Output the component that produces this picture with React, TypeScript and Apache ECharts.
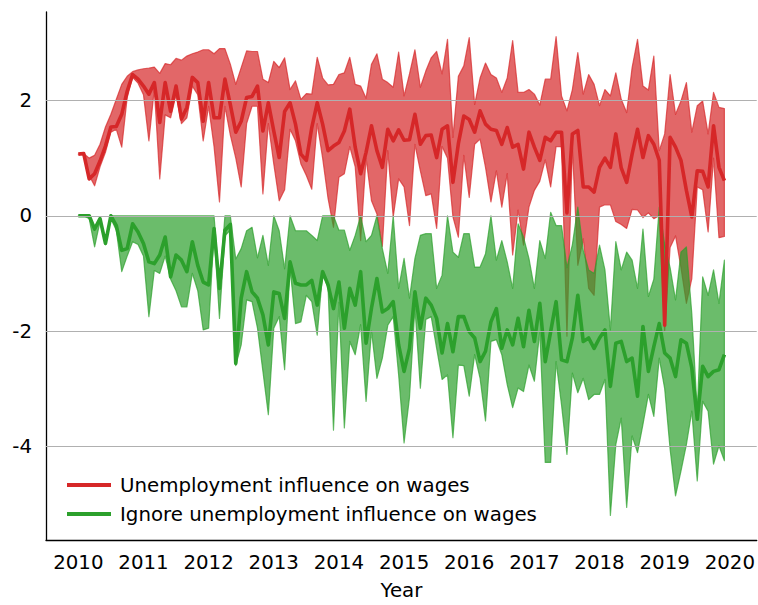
import React, { useEffect, useRef } from "react";
import * as echarts from "echarts";

// Monthly observations, Jan 2010 .. Dec 2019
const startYear = 2010;
const months = 120;

const redMean = [
  1.07, 1.08, 0.64, 0.73, 0.95, 1.21, 1.54, 1.55, 1.76, 2.16, 2.45, 2.37,
  2.25, 2.11, 2.31, 1.62, 2.31, 1.81, 2.25, 1.68, 1.88, 2.40, 2.31, 1.64,
  2.31, 1.70, 1.70, 2.37, 1.93, 1.45, 1.64, 2.05, 2.07, 2.25, 1.47, 1.96,
  1.47, 1.01, 1.81, 1.96, 1.59, 1.07, 0.96, 1.53, 1.96, 1.59, 1.13, 1.21,
  1.27, 1.47, 1.85, 1.19, 0.73, 1.10, 1.56, 1.13, 0.84, 1.50, 1.30, 1.49,
  1.31, 1.32, 1.76, 1.24, 1.39, 1.40, 1.01, 1.50, 1.56, 0.58, 1.25, 1.73,
  1.67, 1.45, 1.82, 1.59, 1.50, 1.48, 1.24, 1.53, 1.19, 1.24, 0.81, 1.45,
  1.19, 0.96, 1.36, 1.30, 1.45, 1.45, 0.05, 1.42, 1.48, 0.50, 0.50, 0.41,
  0.84, 1.00, 0.84, 1.42, 0.83, 0.58, 1.07, 1.50, 1.01, 1.39, 1.24, 0.96,
  -1.9, 1.36, 1.19, 0.96, 0.44, -0.02, 0.78, 0.77, 0.50, 1.56, 0.84, 0.61,
];

const redUpper = [
  1.07, 1.08, 1.0, 1.05, 1.24, 1.54, 1.76, 2.02, 2.28, 2.42, 2.50, 2.53,
  2.55, 2.56, 2.58, 2.47, 2.64, 2.62, 2.73, 2.70, 2.77, 2.81, 2.84, 2.88,
  2.88, 2.81, 2.90, 2.90, 2.63, 2.28, 2.57, 2.86, 2.85, 2.85, 2.37, 2.31,
  2.68, 2.57, 2.74, 2.19, 2.34, 2.02, 2.12, 2.11, 2.75, 2.39, 2.27, 2.28,
  2.45, 2.48, 2.75, 2.28, 2.25, 2.04, 2.63, 2.81, 2.37, 2.31, 2.23, 2.84,
  2.08, 2.46, 2.88, 2.23, 2.51, 2.74, 2.85, 2.46, 3.06, 1.36, 2.42, 2.60,
  3.09, 1.93, 2.39, 2.65, 2.45, 2.39, 2.14, 2.39, 3.04, 2.14, 2.14, 2.19,
  2.11, 1.92, 2.37, 2.37, 3.11, 2.08, 1.82, 2.19, 2.83, 2.11, 2.45, 2.28,
  1.91, 2.19, 2.08, 2.48, 2.02, 1.79, 2.57, 3.06, 2.25, 2.18, 2.77, 1.13,
  1.42, 2.45, 1.76, 1.99, 2.31, 1.45, 1.91, 1.99, 1.42, 2.14, 1.88, 1.86,
];

const redLower = [
  1.07, 1.05, 0.7, 0.52, 0.85, 1.1, 1.45, 1.5, 1.19, 2.05, 2.4, 2.3,
  2.1, 1.3, 2.2, 0.64, 1.75, 1.7, 2.1, 1.6, 1.7, 2.25, 2.1, 1.3,
  1.9, 1.2, 0.24, 1.9, 1.4, 1.0, 0.5, 1.6, 1.9, 1.9, 0.38, 1.6,
  0.9, 0.26, 0.45, 1.5, 1.3, 0.9, 0.7, 0.46, 1.6, 1.0, 0.3, -0.2,
  0.67, 0.73, 1.2, 0.85, -0.43, 1.0, 0.26, 0.03, -0.53, 1.13, -0.02, 0.64,
  0.5, -0.17, 1.24, 0.78, 0.35, 0.38, -0.22, 1.2, 1.0, -0.02, -0.37, 1.05,
  0.32, 1.24, 1.33, 0.84, 0.24, 0.78, 0.15, 0.73, -0.68, 0.1, -0.51, 0.15,
  0.44, 0.6, 0.97, 0.5, 1.2, 1.2, -2.09, 1.2, -0.86, -0.4, -1.26, -1.38,
  0.15, 0.19, 0.19, -0.1, -0.15, -0.22, 0.11, 0.1, -0.03, 0.05, -0.05, 0.0,
  -2.0, -0.55, -0.35, -0.9, -1.52, -1.09, 0.5, 0.45, -0.28, 1.0, -0.38, -0.36,
];

const greenMean = [
  0, 0, 0, -0.23, -0.05, -0.48, 0.0, -0.17, -0.6, -0.57, -0.14, -0.28,
  -0.48, -0.8, -0.83, -0.68, -0.37, -1.06, -0.68, -0.77, -0.97, -0.45, -0.86, -1.15,
  -1.2, -0.22, -1.26, -0.25, -0.15, -2.56, -1.43, -0.97, -1.32, -1.43, -1.72, -2.24,
  -1.32, -1.35, -1.78, -0.8, -1.17, -1.2, -1.2, -1.12, -1.55, -0.97, -1.2, -1.61,
  -1.15, -1.95, -1.26, -1.55, -0.97, -2.21, -1.6, -1.09, -1.67, -1.61, -1.49, -2.24,
  -2.7, -2.3, -1.32, -1.95, -1.43, -1.55, -1.78, -2.38, -1.87, -2.36, -1.75, -1.75,
  -2.01, -2.12, -2.53, -2.35, -1.84, -1.61, -2.3, -1.98, -2.24, -1.78, -2.27, -1.64,
  -2.18, -1.52, -2.53, -2.01, -1.49, -2.5, -2.53, -2.12, -1.38, -2.18, -2.12, -2.3,
  -2.12, -1.98, -2.96, -2.21, -2.18, -2.53, -2.47, -3.13, -1.92, -2.7, -2.27, -1.87,
  -2.38, -2.47, -2.79, -2.15, -2.21, -2.64, -3.53, -2.61, -2.79, -2.7, -2.67, -2.41,
];

const greenUpper = [
  0, 0, 0, -0.2, -0.05, -0.45, 0, 0, 0, 0, 0, 0,
  0, 0, 0, 0, 0, 0, 0, 0, 0, 0, 0, 0,
  0, 0, -1.2, 0, 0, -0.75, -0.57, -0.26, -0.2, -0.73, -0.34, -0.86,
  0, -0.26, -0.92, 0, -0.26, -0.26, -0.26, -0.34, -0.43, 0, 0, 0,
  -0.25, -0.25, -0.6, -0.34, 0, -0.45, -0.34, 0, -0.57, -1.0, 0, -1.26,
  -0.74, -1.43, -0.74, -0.34, -0.31, -0.31, -1.26, -1.03, 0, -0.63, -0.72, -0.31,
  -0.31, -0.89, -0.89, -0.66, 0, -0.77, -0.43, -0.8, -1.26, -0.14, -0.37, -0.74,
  -1.26, -0.43, -0.74, 0.06, -0.17, -0.17, -0.9, -0.5, 0.15, -0.6, -0.94, -1.0,
  -0.51, -0.94, -1.98, -0.45, -0.94, -0.63, -0.77, -1.26, -0.23, -1.4, -1.1, 0.15,
  -0.5, -0.9, -1.46, -0.63, -0.54, -1.7, -3.4, -1.06, -1.38, -0.94, -1.52, -0.77,
];

const greenLower = [
  0, 0, -0.05, -0.54, -0.1, -0.5, -0.05, -0.25, -0.97, -0.7, -0.45, -0.5,
  -0.7, -1.75, -0.95, -1.0, -0.7, -1.1, -1.3, -1.58, -1.58, -1.0, -1.3, -1.98,
  -1.95, -0.3, -1.78, -0.35, -0.25, -2.6, -2.24, -1.46, -1.49, -1.95, -2.7, -3.45,
  -1.95, -1.75, -2.67, -0.9, -1.87, -1.84, -1.38, -1.49, -2.07, -1.0, -1.25, -3.72,
  -1.5, -3.68, -2.18, -2.41, -1.89, -3.22, -2.0, -2.82, -2.47, -1.9, -1.75, -2.76,
  -3.94, -3.15, -1.6, -2.99, -1.8, -1.75, -2.3, -2.84, -2.76, -3.85, -2.59, -2.6,
  -3.13, -2.41, -2.82, -3.56, -2.18, -2.15, -2.41, -2.93, -3.33, -2.99, -3.05, -2.59,
  -2.87, -2.01, -4.28, -4.28, -2.53, -3.28, -4.14, -2.73, -3.07, -2.82, -3.19, -3.1,
  -3.1, -2.84, -5.2, -3.97, -3.51, -5.06, -3.82, -4.11, -3.62, -3.1, -3.48, -2.47,
  -3.0, -4.05, -4.86, -4.43, -3.97, -3.39, -4.6, -3.22, -3.39, -4.31, -3.99, -4.25,
];

const yearTicks = [2010, 2011, 2012, 2013, 2014, 2015, 2016, 2017, 2018, 2019, 2020];
const yTicks = [-4, -2, 0, 2];

const redName = "Unemployment influence on wages";
const greenName = "Ignore unemployment influence on wages";

const RED = "#d62728";
const GREEN = "#2ca02c";
const FONT = "DejaVu Sans";
const FS = 19.8;

const xs = Array.from({ length: months }, (_, i) => startYear + i / 12);

function bandSeries(name: string, upper: number[], lower: number[], color: string) {
  return {
    type: "custom",
    name,
    silent: true,
    clip: true,
    data: [[xs[0], upper[0]]],
    encode: { x: 0, y: 1 },
    renderItem: (_params: any, api: any) => {
      const pts: number[][] = [];
      for (let i = 0; i < upper.length; i++) pts.push(api.coord([xs[i], upper[i]]));
      for (let i = lower.length - 1; i >= 0; i--) pts.push(api.coord([xs[i], lower[i]]));
      return {
        type: "polygon",
        shape: { points: pts },
        style: {
          fill: color,
          opacity: 0.7,
          stroke: color,
          lineWidth: 1.2,
          lineJoin: "round",
        },
      };
    },
  };
}

function lineSeries(name: string, values: number[], color: string) {
  return {
    type: "line",
    name,
    color,
    data: values.map((v, i) => [xs[i], v]),
    showSymbol: false,
    symbol: "none",
    lineStyle: { width: 3.6, color, join: "round" },
    silent: true,
  };
}

export default function App() {
  const ref = useRef<HTMLDivElement>(null);
  useEffect(() => {
    if (!ref.current) return;
    const chart = echarts.init(ref.current, undefined, { renderer: "svg" });
    chart.setOption({
      animation: false,
      backgroundColor: "#ffffff",
      grid: { left: 46, right: 1, top: 12, bottom: 62, containLabel: false },
      legend: {
        data: [redName, greenName],
        orient: "vertical",
        left: 62,
        top: 470,
        icon: "rect",
        itemWidth: 44,
        itemHeight: 4,
        itemGap: 9,
        textStyle: {
          fontFamily: FONT,
          fontSize: FS,
          color: "#000",
          lineHeight: 20,
          padding: [0, 0, 0, 4],
        },
      },
      xAxis: {
        type: "value",
        min: 2009.504,
        max: 2020.413,
        name: "Year",
        nameLocation: "middle",
        nameGap: 40,
        nameTextStyle: { fontFamily: FONT, fontSize: FS, color: "#000" },
        axisLine: { show: true, onZero: false, lineStyle: { color: "#000", width: 1.3 } },
        axisTick: { show: false },
        splitLine: { show: false },
        axisLabel: {
          customValues: yearTicks,
          formatter: (v: number) => String(Math.round(v)),
          fontFamily: FONT,
          fontSize: FS,
          color: "#000",
          margin: 12,
        },
      },
      yAxis: {
        type: "value",
        min: -5.625,
        max: 3.535,
        axisLine: { show: true, onZero: false, lineStyle: { color: "#000", width: 1.3 } },
        axisTick: { show: false },
        splitLine: { show: false },
        axisLabel: {
          customValues: yTicks,
          formatter: (v: number) => String(Math.round(v)),
          fontFamily: FONT,
          fontSize: FS,
          color: "#000",
          margin: 14,
        },
      },
      series: [
        {
          type: "line",
          name: "grid",
          data: [],
          silent: true,
          markLine: {
            silent: true,
            symbol: "none",
            label: { show: false },
            lineStyle: { color: "#b0b0b0", width: 1, type: "solid" },
            data: yTicks.map((v) => ({ yAxis: v })),
          },
        },
        bandSeries("redBand", redUpper, redLower, RED),
        bandSeries("greenBand", greenUpper, greenLower, GREEN),
        lineSeries(redName, redMean, RED),
        lineSeries(greenName, greenMean, GREEN),
      ],
    });
    return () => chart.dispose();
  }, []);
  return (
    <div
      ref={ref}
      style={{ position: "fixed", left: 0, top: 0, width: 758, height: 605, background: "#fff" }}
    />
  );
}
